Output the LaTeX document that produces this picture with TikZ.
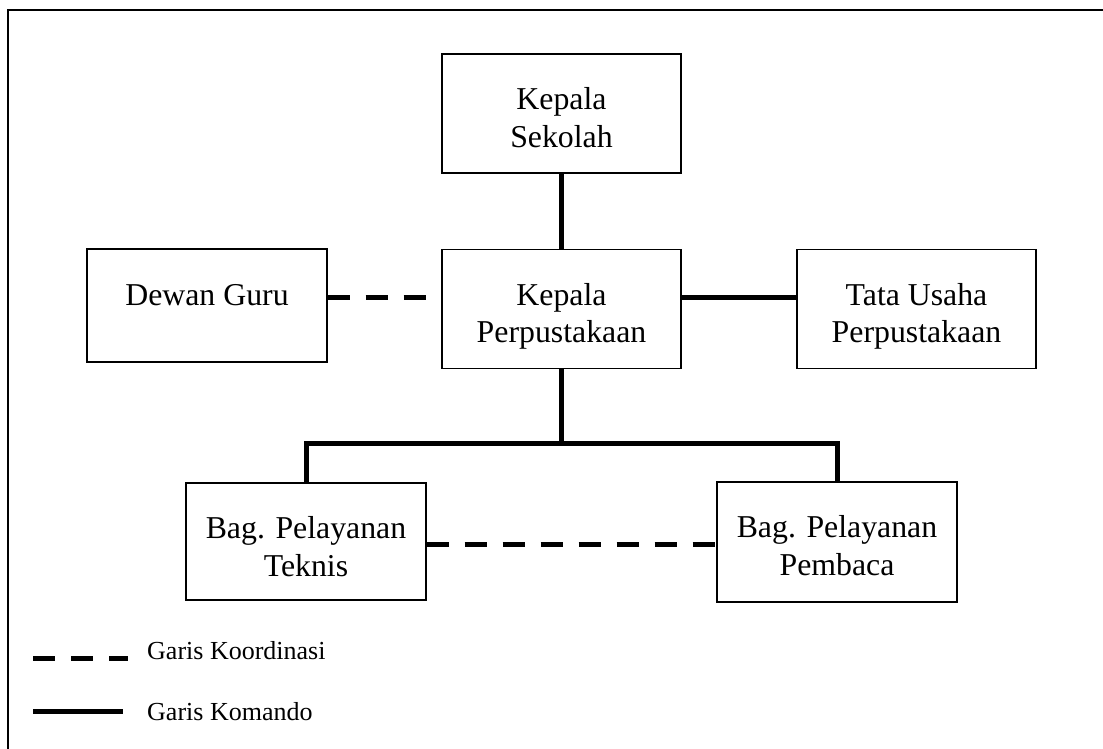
\documentclass[tikz,border=0pt]{standalone}
\usepackage{fontspec}
\setmainfont{Liberation Serif}
\usetikzlibrary{positioning}

\tikzset{
  kotak/.style={draw, line width=1.4pt, minimum width=239pt, minimum height=119pt, inner sep=0pt},
  teks/.style={align=center, inner sep=0pt, font=\fontsize{31.8}{37.5}\selectfont},
  komando/.style={line width=5pt},
  koordinasi/.style={line width=5pt, dash pattern=on 22pt off 16pt},
  ket/.style={anchor=base west, inner sep=0pt, font=\fontsize{26}{30}\selectfont}
}

\begin{document}
\begin{tikzpicture}[x=1pt, y=-1pt]
    \fill[white] (0,0) rectangle (1103,749);
    \useasboundingbox (0,0) rectangle (1103,749);
    \draw[line width=2pt] (8,749) -- (8,10) -- (1103,10);

    \node[kotak] (ks) at (561.5,113.5) {};
    \node[kotak] (kp) at (561.5,309) {};
    \node[kotak, minimum width=240pt, minimum height=113pt] (dg) at (207,305.5) {};
    \node[kotak] (tu) at (916.5,309) {};
    \node[kotak, minimum width=240pt, minimum height=117pt] (bpt) at (306,541.5) {};
    \node[kotak, minimum width=240pt, minimum height=120pt] (bpp) at (837,542) {};

    \node[teks, below=34pt of ks.north] (ks-t) {Kepala\\Sekolah};
    \node[teks, below=34pt of kp.north] (kp-t) {Kepala\\Perpustakaan};
    \node[teks, below=36pt of dg.north] (dg-t) {Dewan Guru};
    \node[teks, below=34pt of tu.north] (tu-t) {Tata Usaha\\Perpustakaan};
    \node[teks, below=34pt of bpt.north] (bpt-t) {Bag. Pelayanan\\Teknis};
    \node[teks, below=34pt of bpp.north] (bpp-t) {Bag. Pelayanan\\Pembaca};

    \draw[komando] (ks.south) -- (kp.north);
    \draw[komando] (kp.east |- 0,297) -- (tu.west |- 0,297);
    \draw[koordinasi] (dg.east |- 0,297) -- (kp.west |- 0,297);
    \draw[komando] (kp.south) -- ++(0,74) coordinate (cabang) -| (bpt.north);
    \draw[komando] (cabang) -| (bpp.north);
    \draw[koordinasi] (bpt.east |- 0,544) -- (bpp.west |- 0,544);

    % keterangan
    \coordinate (k1) at (33,658);
    \coordinate (k2) at (128,658);
    \coordinate (m1) at (33,711);
    \coordinate (m2) at (123,711);
    \draw[koordinasi] (k1) -- (k2);
    \draw[komando] (m1) -- (m2);
    \node[ket] (tkoord) at (147,659) {Garis Koordinasi};
    \node[ket] (tkom) at (147,720) {Garis Komando};
\end{tikzpicture}
\end{document}
